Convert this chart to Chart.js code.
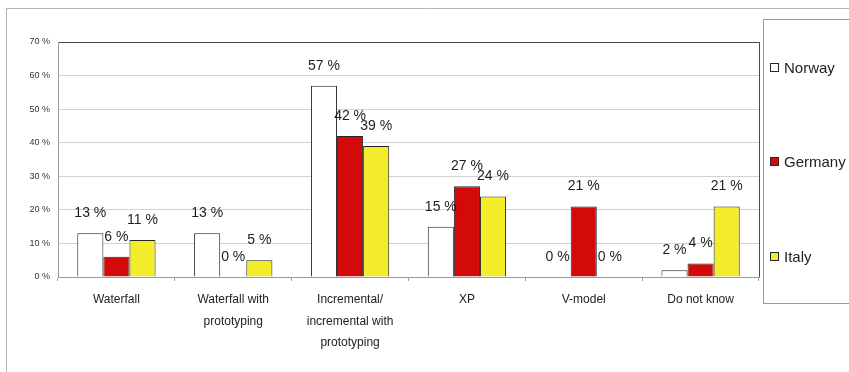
<!DOCTYPE html>
<html>
<head>
<meta charset="utf-8">
<script src="https://cdn.jsdelivr.net/npm/chart.js@4/dist/chart.umd.min.js"></script>
<style>
  html, body { margin: 0; padding: 0; background: #fff; }
  #wrap { position: relative; width: 849px; height: 372px; }
</style>
</head>
<body>
<div id="wrap"><canvas id="c" width="849" height="372"></canvas></div>
<script>
// Development approaches named by respondents, per country (percent)
const categories = [
  'Waterfall',
  ['Waterfall with', 'prototyping'],
  ['Incremental/', 'incremental with', 'prototyping'],
  'XP',
  'V-model',
  'Do not know'
];
const seriesNames = ['Norway', 'Germany', 'Italy'];
const norway  = [13, 13, 57, 15, 0, 2];
const germany = [6, 0, 42, 27, 21, 4];
const italy   = [11, 5, 39, 24, 0, 21];
const yTicks  = [0, 10, 20, 30, 40, 50, 60, 70];

const fills = ['#ffffff', '#d40a0a', '#f2ec2a'];
const edge = '#262626';
const FONT = '"Liberation Sans", Arial, sans-serif';

// Value labels above each bar
const valueLabels = {
  id: 'valueLabels',
  afterDatasetsDraw(chart) {
    const ctx = chart.ctx;
    ctx.save();
    ctx.font = '14px ' + FONT;
    ctx.fillStyle = '#1e1e1e';
    ctx.textAlign = 'center';
    ctx.textBaseline = 'middle';
    chart.data.datasets.forEach((ds, i) => {
      chart.getDatasetMeta(i).data.forEach((bar, j) => {
        ctx.fillText(Math.round(ds.data[j]) + ' %', bar.x, bar.y - 20);
      });
    });
    ctx.restore();
  }
};

// Frame lines, plot border and the boxed legend
const frame = {
  id: 'frame',
  beforeDraw(chart) {
    const ctx = chart.ctx;
    ctx.save();
    ctx.strokeStyle = '#b4b4b4';
    ctx.lineWidth = 1;
    ctx.beginPath();
    ctx.moveTo(6.5, 372); ctx.lineTo(6.5, 8.5); ctx.lineTo(849, 8.5);
    ctx.stroke();
    ctx.restore();
  },
  afterDraw(chart) {
    const ctx = chart.ctx;
    const a = chart.chartArea;
    ctx.save();
    ctx.strokeStyle = '#4a4a4a';
    ctx.lineWidth = 1;
    ctx.beginPath();
    ctx.moveTo(Math.round(a.right) + 0.5, Math.round(a.top));
    ctx.lineTo(Math.round(a.right) + 0.5, Math.round(a.bottom));
    ctx.stroke();

    // legend box
    ctx.strokeStyle = '#9a9a9a';
    ctx.strokeRect(763.5, 19.5, 100, 284);
    const ys = [68, 162, 257];
    ctx.font = '15px ' + FONT;
    ctx.textBaseline = 'middle';
    ctx.textAlign = 'left';
    chart.data.datasets.forEach((ds, i) => {
      const y = ys[i];
      ctx.fillStyle = ds.backgroundColor;
      ctx.fillRect(770.5, y - 4.5, 8, 8);
      ctx.strokeStyle = edge;
      ctx.strokeRect(770.5, y - 4.5, 8, 8);
      ctx.fillStyle = '#1e1e1e';
      ctx.fillText(ds.label, 784, y + 1);
    });
    ctx.restore();
  }
};

new Chart(document.getElementById('c'), {
  type: 'bar',
  data: {
    labels: categories,
    datasets: [norway, germany, italy].map((vals, i) => ({
      label: seriesNames[i],
      data: vals,
      backgroundColor: fills[i],
      borderColor: edge,
      borderWidth: 1,
      borderSkipped: 'bottom',
      categoryPercentage: 0.67,
      barPercentage: 1.0
    }))
  },
  options: {
    responsive: false,
    animation: false,
    layout: { padding: { top: 42, right: 90, left: 0, bottom: 0 } },
    plugins: { legend: { display: false }, tooltip: { enabled: false } },
    scales: {
      x: {
        afterFit(s) { s.height = 95; },
        grid: {
          offset: true,
          drawOnChartArea: false,
          tickLength: 4,
          color: '#a0a0a0'
        },
        border: { color: '#9a9a9a' },
        ticks: {
          padding: 8,
          color: '#222',
          font: { family: FONT, size: 12, lineHeight: 1.8 },
          maxRotation: 0,
          autoSkip: false
        }
      },
      y: {
        min: 0,
        max: 70,
        afterFit(s) { s.width = 58; },
        afterBuildTicks(s) { s.ticks = yTicks.map(v => ({ value: v })); },
        grid: {
          drawTicks: false,
          color: ctx => ctx.tick && ctx.tick.value === 70 ? '#4a4a4a' : (ctx.tick && ctx.tick.value === 0 ? '#9a9a9a' : '#d2d2d2')
        },
        border: { color: '#9a9a9a' },
        ticks: {
          padding: 8,
          color: '#333',
          font: { family: FONT, size: 9 },
          callback: v => v + ' %'
        }
      }
    }
  },
  plugins: [frame, valueLabels]
});
</script>
</body>
</html>
